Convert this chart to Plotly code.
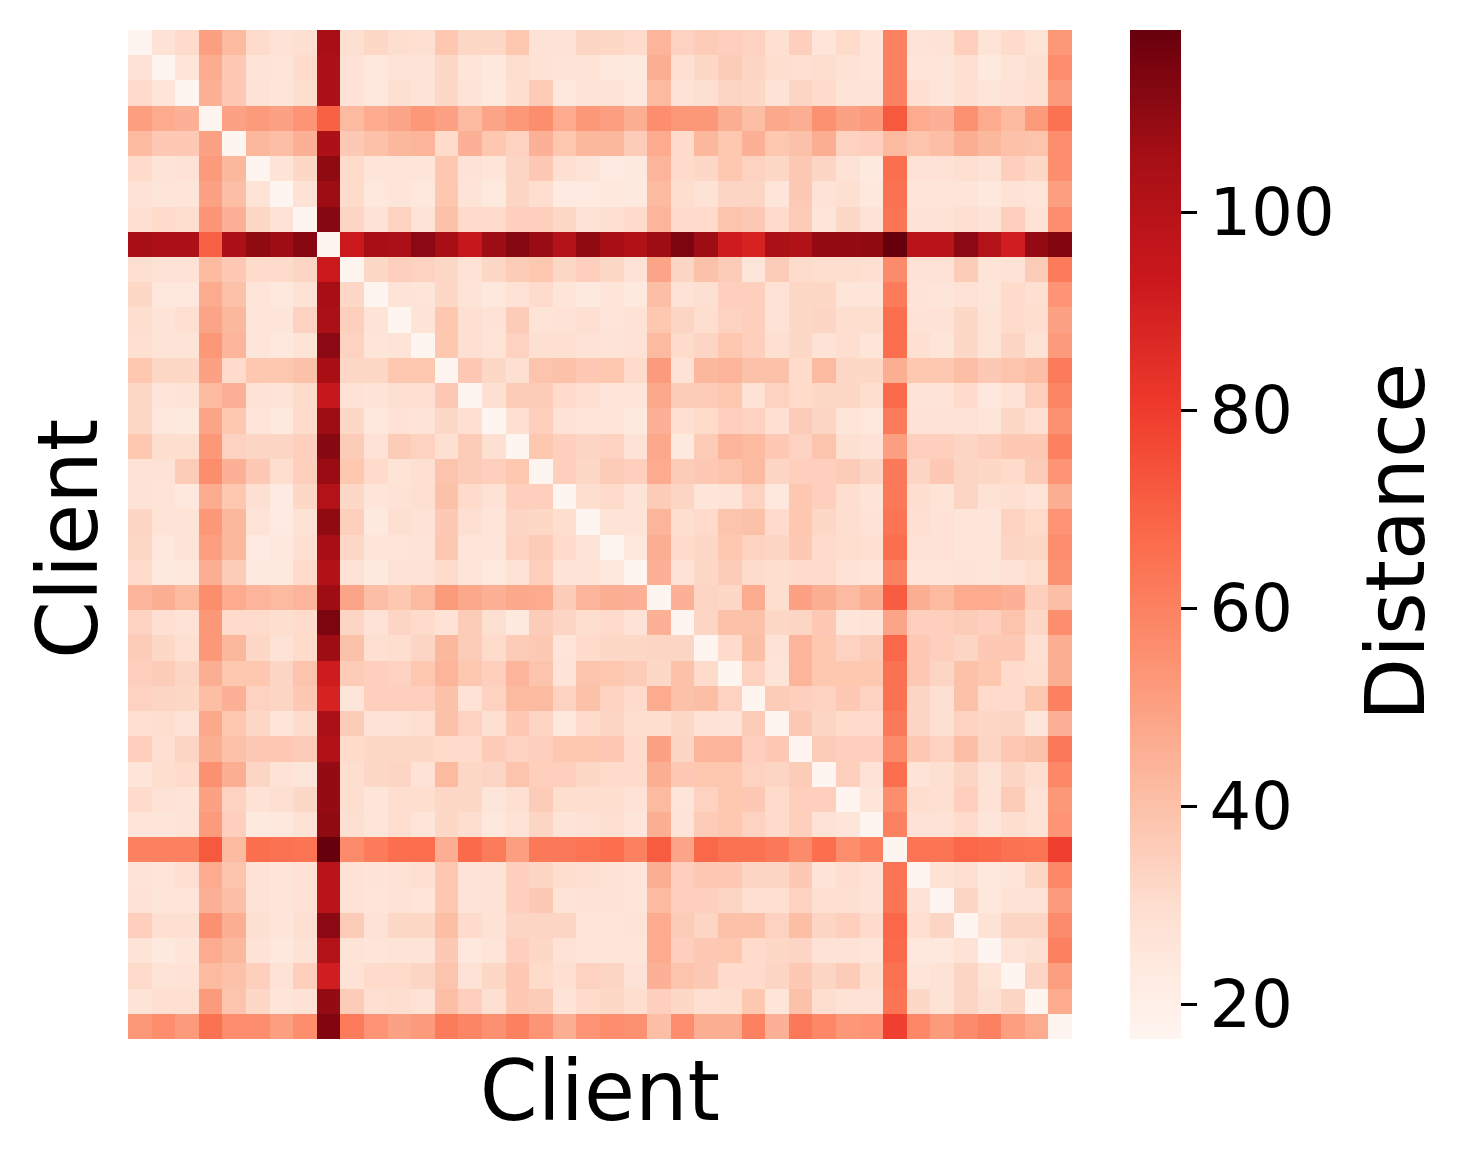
import plotly.graph_objects as go

# Upper triangle of the symmetric client distance matrix: row_NN holds columns NN+1 .. 39
row_00 = [28,31,51,42,31,28,29,105,29,32,30,29,38,32,32,38,28,28,33,32,31,44,34,36,35,34,29,35,26,31,26,60,27,28,35,27,31,27,53]
row_01 = [26,47,37,27,26,31,103,28,25,27,27,32,26,25,30,28,27,27,25,24,46,29,32,36,33,30,29,30,28,26,60,26,26,29,24,27,29,56]
row_02 = [45,37,28,26,30,103,28,25,29,27,32,27,24,30,36,25,27,27,25,42,28,29,33,32,28,33,31,27,27,60,29,26,29,26,28,29,52]
row_03 = [50,52,50,54,70,42,47,49,53,50,42,49,53,56,47,53,51,46,56,53,53,46,41,48,46,55,50,52,72,47,45,55,47,42,52,65]
row_04 = [43,41,45,103,37,40,43,44,31,45,38,34,45,38,43,43,36,47,31,43,38,45,38,40,46,34,35,42,39,41,46,43,40,39,56]
row_05 = [27,32,110,31,26,26,26,38,28,26,33,37,29,27,23,24,44,31,32,38,34,32,37,33,28,24,66,28,28,29,28,35,32,56]
row_06 = [28,107,31,25,26,25,38,27,24,33,30,23,23,25,24,42,30,28,33,33,26,37,28,29,25,65,26,26,26,25,28,26,51]
row_07 = [112,33,28,34,27,40,31,31,35,35,32,28,29,31,44,31,31,39,37,31,36,26,32,28,64,28,28,29,28,35,28,56]
row_08 = [93,105,104,111,105,95,107,112,108,101,110,105,102,107,114,107,92,89,104,102,109,109,110,118.4,99,99,111,101,91,109,113]
row_09 = [32,35,34,32,28,32,36,38,32,35,32,28,49,33,40,36,26,36,31,30,30,29,57,28,28,36,27,28,36,62]
row_10 = [27,26,32,27,25,28,31,26,24,26,24,41,28,29,35,35,28,32,32,26,26,62,27,26,28,26,31,29,54]
row_11 = [27,38,29,28,36,27,28,29,26,28,38,33,30,34,35,28,32,33,30,30,66,28,28,32,27,31,30,50]
row_12 = [38,29,27,34,29,29,28,27,28,42,31,33,38,35,29,32,28,30,26,66,29,26,32,27,33,28,52]
row_13 = [37,32,29,39,40,37,38,31,52,28,43,44,40,40,31,42,32,32,46,38,38,41,37,39,41,62]
row_14 = [29,36,36,31,29,26,26,48,36,36,38,28,34,31,32,32,30,67,27,27,31,25,28,35,59]
row_15 = [29,35,28,26,26,24,45,29,31,35,34,29,36,33,26,25,62,28,28,28,26,32,29,55]
row_16 = [38,35,33,34,28,48,24,36,44,42,37,34,39,29,28,51,35,35,33,35,37,37,60]
row_17 = [35,32,36,35,47,36,37,39,42,33,35,35,36,33,63,33,37,33,32,31,36,54]
row_18 = [30,31,27,36,33,26,27,34,25,38,35,30,27,63,30,27,33,28,29,27,46]
row_19 = [27,27,44,30,31,39,40,31,38,32,30,28,64,29,28,26,26,34,31,54]
row_20 = [25,46,31,32,38,34,33,37,31,30,29,66,28,28,26,26,33,32,56]
row_21 = [45,28,32,36,31,30,31,31,28,26,60,26,26,27,26,28,30,55]
row_22 = [45,33,32,47,30,50,46,42,46,71,46,42,47,47,45,35,41]
row_23 = [33,40,40,32,33,37,26,27,49,35,35,36,35,39,32,56]
row_24 = [31,41,28,44,38,34,36,68,37,35,33,37,37,29,46]
row_25 = [34,27,44,38,38,38,65,37,33,40,38,31,30,46]
row_26 = [36,35,34,37,34,65,33,29,40,31,31,38,60]
row_27 = [37,33,31,31,63,33,29,34,32,33,26,45]
row_28 = [36,35,35,57,37,34,41,33,37,40,63]
row_29 = [35,28,66,27,29,33,28,33,30,58]
row_30 = [26,56,30,29,35,28,36,28,53]
row_31 = [60,28,28,31,26,30,28,54]
row_32 = [64,64,68,67,65,64,79]
row_33 = [28,29,25,26,32,58]
row_34 = [33,25,28,28,52]
row_35 = [28,33,33,57]
row_36 = [27,29,60]
row_37 = [33,51]
row_38 = [47]

upper_rows = [row_00,row_01,row_02,row_03,row_04,row_05,row_06,row_07,row_08,row_09,
              row_10,row_11,row_12,row_13,row_14,row_15,row_16,row_17,row_18,row_19,
              row_20,row_21,row_22,row_23,row_24,row_25,row_26,row_27,row_28,row_29,
              row_30,row_31,row_32,row_33,row_34,row_35,row_36,row_37,row_38,[]]
n_clients = 40
self_distance = 16.5
vmax = 118.4
colorbar_ticks = [20, 40, 60, 80, 100]
reds = ["#fff5f0","#fee0d2","#fcbba1","#fc9272","#fb6a4a","#ef3b2c","#cb181d","#a50f15","#67000d"]

for i, r in enumerate(upper_rows):
    assert len(r) == n_clients - 1 - i, (i, len(r))

z = [[self_distance] * n_clients for _ in range(n_clients)]
for i, r in enumerate(upper_rows):
    for k, v in enumerate(r):
        z[i][i + 1 + k] = v
        z[i + 1 + k][i] = v

FONT = "DejaVu Sans"
fig = go.Figure(go.Heatmap(
    z=z, zmin=self_distance, zmax=vmax,
    colorscale=[[i / 8, c] for i, c in enumerate(reds)],
    colorbar=dict(
        tickvals=colorbar_ticks, ticks="outside", ticklen=16, tickwidth=3, tickcolor="black",
        tickfont=dict(size=65.5, family=FONT, color="black"),
        thickness=51, thicknessmode="pixels", len=1, lenmode="fraction",
        x=(1130 - 128) / 944, xanchor="left", xpad=0, y=0.5, yanchor="middle", ypad=0,
        outlinewidth=0,
    ),
))
fig.update_layout(
    width=1448, height=1151,
    margin=dict(l=120, r=384, t=22, b=120),
    paper_bgcolor="white", plot_bgcolor="white",
    font=dict(family=FONT, color="black"),
    xaxis=dict(showticklabels=False, ticks="", showgrid=False, zeroline=False,
               title=dict(text="Client", font=dict(size=83), standoff=22)),
    yaxis=dict(showticklabels=False, ticks="", showgrid=False, zeroline=False, autorange="reversed"),
    annotations=[
        dict(text="Client", textangle=-90, xref="paper", yref="paper", showarrow=False,
             x=(68 - 128) / 944, y=(1039 - 539) / 1009, xanchor="center", yanchor="middle",
             font=dict(size=83)),
        dict(text="Distance", textangle=-90, xref="paper", yref="paper", showarrow=False,
             x=(1395 - 128) / 944, y=(1039 - 542) / 1009, xanchor="center", yanchor="middle",
             font=dict(size=82)),
    ],
)
fig.write_html("out.html")
